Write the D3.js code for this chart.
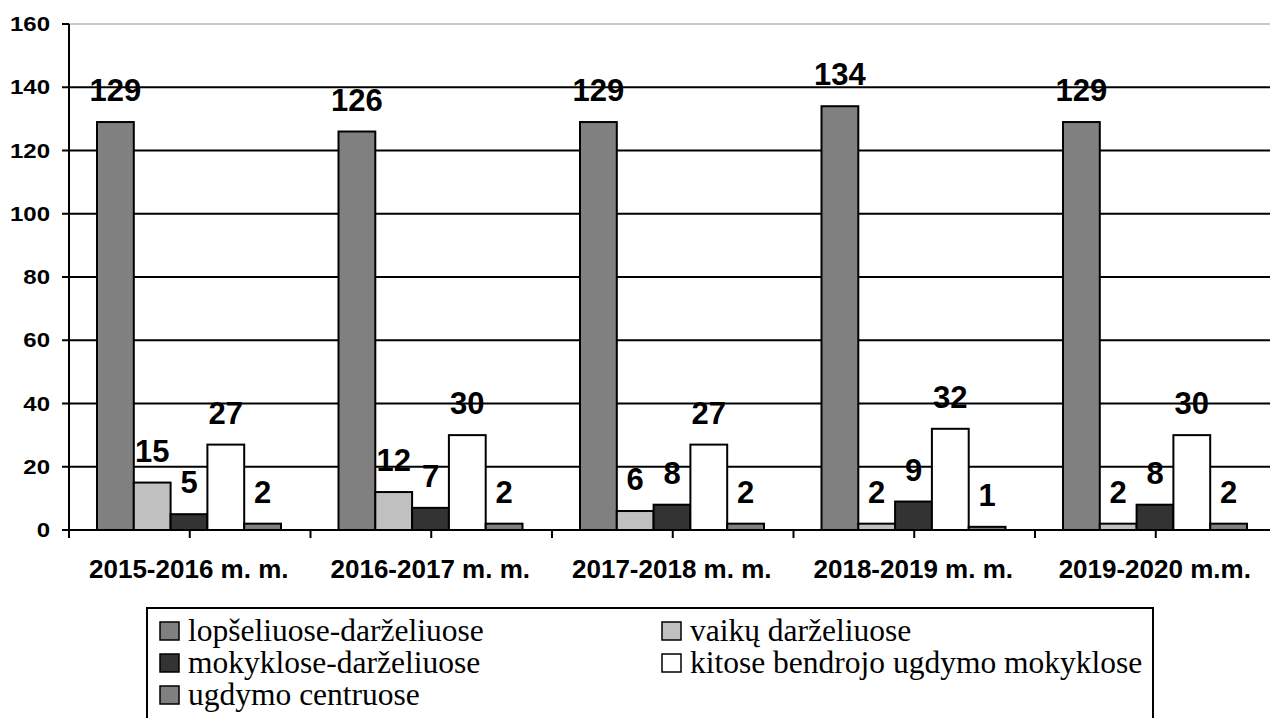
<!DOCTYPE html>
<html>
<head>
<meta charset="utf-8">
<script src="https://cdn.jsdelivr.net/npm/d3@7"></script>
<style>
  body { margin: 0; background: #fff; }
  svg { display: block; }
</style>
</head>
<body>
<svg width="1270" height="718"></svg>
<script>
// kategorijos (mokslo metai)
var categories = ["2015-2016 m. m.", "2016-2017 m. m.", "2017-2018 m. m.", "2018-2019 m. m.", "2019-2020 m.m."];

// serijų pavadinimai
var seriesNames = ["lopšeliuose-darželiuose", "vaikų darželiuose", "mokyklose-darželiuose",
                   "kitose bendrojo ugdymo mokyklose", "ugdymo centruose"];

// reikšmės pagal seriją
var lopseliai   = [129, 126, 129, 134, 129];
var darzeliai   = [15, 12, 6, 2, 2];
var mokyklos    = [5, 7, 8, 9, 8];
var kitos       = [27, 30, 27, 32, 30];
var centrai     = [2, 2, 2, 1, 2];

var yTicks = [0, 20, 40, 60, 80, 100, 120, 140, 160];

var seriesValues = [lopseliai, darzeliai, mokyklos, kitos, centrai];
var colors = ["#808080", "#c0c0c0", "#333333", "#ffffff", "#808080"];

var svg = d3.select("svg");
var plotLeft = 69, plotTop = 24, plotBottom = 530;
var catW = 241.5;

var x0 = d3.scaleBand()
    .domain(categories)
    .range([plotLeft, plotLeft + catW * categories.length]);

var x1 = d3.scaleBand()
    .domain(d3.range(seriesNames.length))
    .range([28, 28 + 184]);

var y = d3.scaleLinear()
    .domain([0, 160])
    .range([plotBottom, plotTop]);

// tinklelio linijos
svg.append("g")
  .selectAll("line")
  .data(yTicks.filter(function(d) { return d > 0; }))
  .enter().append("line")
  .attr("x1", plotLeft)
  .attr("x2", 1270)
  .attr("y1", function(d) { return y(d); })
  .attr("y2", function(d) { return y(d); })
  .attr("stroke", function(d) { return d === 160 ? "#c8c8c8" : "#000"; })
  .attr("stroke-width", 2);

// stulpeliai
var data = [];
categories.forEach(function(c, ci) {
  seriesValues.forEach(function(vals, si) {
    data.push({cat: c, s: si, v: vals[ci]});
  });
});

svg.append("g")
  .selectAll("rect")
  .data(data)
  .enter().append("rect")
  .attr("x", function(d) { return x0(d.cat) + x1(d.s); })
  .attr("y", function(d) { return y(d.v); })
  .attr("width", x1.bandwidth())
  .attr("height", function(d) { return y(0) - y(d.v); })
  .attr("fill", function(d) { return colors[d.s]; })
  .attr("stroke", "#000")
  .attr("stroke-width", 2);

// ašys
svg.append("line")
  .attr("x1", plotLeft).attr("x2", plotLeft)
  .attr("y1", plotTop).attr("y2", plotBottom + 8)
  .attr("stroke", "#000").attr("stroke-width", 2);

svg.append("line")
  .attr("x1", plotLeft).attr("x2", 1270)
  .attr("y1", plotBottom).attr("y2", plotBottom)
  .attr("stroke", "#000").attr("stroke-width", 2);

// y ašies žymės
var yAxis = svg.append("g");
yAxis.selectAll("line")
  .data(yTicks)
  .enter().append("line")
  .attr("x1", plotLeft - 7).attr("x2", plotLeft)
  .attr("y1", function(d) { return y(d); })
  .attr("y2", function(d) { return y(d); })
  .attr("stroke", "#000").attr("stroke-width", 2);

yAxis.selectAll("text")
  .data(yTicks)
  .enter().append("text")
  .attr("transform", function(d) { return "translate(50," + (y(d) + 7) + ") scale(1.2,1)"; })
  .attr("text-anchor", "end")
  .attr("font-family", "Arial, 'Liberation Sans', sans-serif")
  .attr("font-weight", "bold")
  .attr("font-size", 20)
  .text(function(d) { return d; });

// x ašies žymės (kas pusę kategorijos)
var halfTicks = [];
categories.forEach(function(c) {
  halfTicks.push(x0(c));
  halfTicks.push(x0(c) + x0.bandwidth() / 2);
});
svg.append("g")
  .selectAll("line")
  .data(halfTicks)
  .enter().append("line")
  .attr("x1", function(d) { return d; })
  .attr("x2", function(d) { return d; })
  .attr("y1", plotBottom).attr("y2", plotBottom + 8)
  .attr("stroke", "#000").attr("stroke-width", 2);

svg.append("g")
  .selectAll("text")
  .data(categories)
  .enter().append("text")
  .attr("x", function(d) { return x0(d) + x0.bandwidth() / 2 - 1; })
  .attr("y", 578)
  .attr("text-anchor", "middle")
  .attr("font-family", "Arial, 'Liberation Sans', sans-serif")
  .attr("font-weight", "bold")
  .attr("font-size", 26)
  .text(function(d) { return d; });

// reikšmių etiketės
svg.append("g")
  .selectAll("text")
  .data(data)
  .enter().append("text")
  .attr("x", function(d) { return x0(d.cat) + x1(d.s) + x1.bandwidth() / 2; })
  .attr("y", function(d) { return y(d.v) - 21; })
  .attr("text-anchor", "middle")
  .attr("font-family", "Arial, 'Liberation Sans', sans-serif")
  .attr("font-weight", "bold")
  .attr("font-size", 31)
  .text(function(d) { return d.v; });

// legenda
var lg = svg.append("g");
lg.append("rect")
  .attr("x", 147).attr("y", 608)
  .attr("width", 1006).attr("height", 130)
  .attr("fill", "#fff")
  .attr("stroke", "#000").attr("stroke-width", 2);

var item = lg.selectAll("g.item")
  .data(seriesNames)
  .enter().append("g")
  .attr("class", "item")
  .attr("transform", function(d, i) {
    var col = i % 2, row = Math.floor(i / 2);
    return "translate(" + (col === 0 ? 160 : 662) + "," + (641 + row * 32) + ")";
  });

item.append("rect")
  .attr("x", 0).attr("y", -19)
  .attr("width", 19).attr("height", 18)
  .attr("fill", function(d, i) { return colors[i]; })
  .attr("stroke", "#000").attr("stroke-width", 1.5);

item.append("text")
  .attr("x", 28)
  .attr("y", 0)
  .attr("font-family", "'Times New Roman', 'Liberation Serif', serif")
  .attr("font-size", 31.5)
  .text(function(d) { return d; });
</script>
</body>
</html>
